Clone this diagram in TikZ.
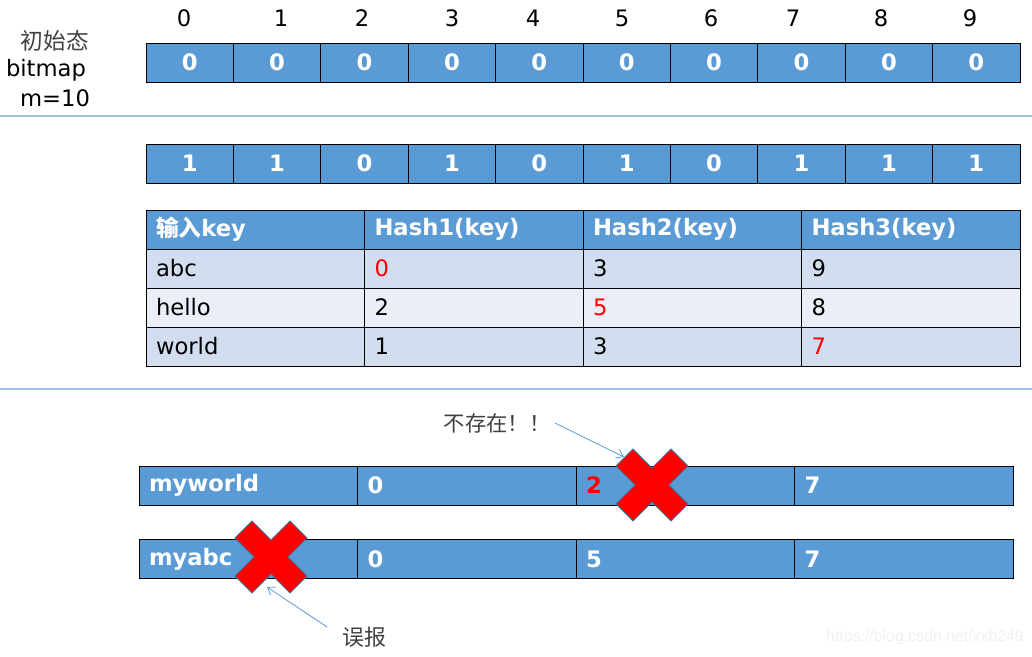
\documentclass[tikz,border=0pt]{standalone}
\usepackage{fontspec}
\setmainfont{DejaVu Sans}
\newfontfamily\cjk{Noto Sans CJK SC}
\newfontfamily\markfont{Liberation Sans}
\usetikzlibrary{arrows.meta}
\definecolor{cellblue}{HTML}{5B9BD5}
\definecolor{rowdark}{HTML}{D2DEEF}
\definecolor{rowlight}{HTML}{EAEFF7}
\definecolor{rulecol}{HTML}{9DC3E6}
\definecolor{labelgray}{HTML}{404040}
\definecolor{crossedge}{HTML}{41719C}
\newcommand\hitval[1]{\textcolor{red}{#1}}
\tikzset{every node/.style={font=\fontsize{17}{20}\selectfont},
    bitcell/.style={draw=black, line width=0.75pt, fill=cellblue, text=white,
        font=\fontsize{17}{20}\selectfont\bfseries, inner sep=0pt,
        minimum width=65.55pt, minimum height=29.25pt},
    tabcell/.style={draw=black, line width=0.75pt, inner xsep=7.5pt, inner ysep=0pt,
        text width=148.875pt, minimum height=29.25pt, align=left},
    headcell/.style={tabcell, fill=cellblue, text=white,
        font=\fontsize{17}{20}\selectfont\bfseries},
    seprule/.style={draw=rulecol, line width=1.1pt},
    pointer/.style={draw=cellblue, line width=0.6pt, -{Straight Barb[length=5pt,width=7pt]}},
    redx/.pic={\filldraw[fill=red, draw=crossedge, line width=0.6pt]
        (-19,-36) -- ++(19,19) -- ++(19,-19) -- ++(17,17) -- ++(-19,19) -- ++(19,19)
        -- ++(-17,17) -- ++(-19,-19) -- ++(-19,19) -- ++(-17,-17) -- ++(19,-19)
        -- ++(-19,-19) -- cycle;},
    }
\begin{document}
\begin{tikzpicture}[x=0.75pt, y=-0.75pt]
	\useasboundingbox (0,0) rectangle (1032,657);
	% initial bitmap
	\node[text=labelgray, font=\fontsize{17}{20}\selectfont\cjk] (initlbl) at (55,41) {初始态};
	\node (bmlbl) at (46,70) {bitmap};
	\node (mlbl) at (55,98) {m=10};
	\foreach \x [count=\i from 0] in {184,281,362,452,533,622,711,793,881,970}
		\node (pos\i) at (\x,18) {\i};
	\foreach \i in {0,...,9}
		\node[bitcell] (init\i) at ({189.7+87.4*\i},62.5) {0};
	\draw[seprule] (0,116) -- (1032,116);
	% bitmap after inserting keys
	\foreach \v [count=\i from 0] in {1,1,0,1,0,1,0,1,1,1}
		\node[bitcell] (bit\i) at ({189.7+87.4*\i},163.5) {\v};
	% hash table
	\foreach \t [count=\c from 0] in {{{\cjk 输入}key},Hash1(key),Hash2(key),Hash3(key)}
		\node[headcell] (head\c) at ({255.25+218.5*\c},229.5) {\t};
	\foreach \k/\ha/\hb/\hc/\bg [count=\r] in {abc/\hitval{0}/3/9/rowdark,
			hello/2/\hitval{5}/8/rowlight, world/1/3/\hitval{7}/rowdark}{
		\node[tabcell, fill=\bg] (key\r) at (255.25,{229.5+39*\r}) {\k};
		\node[tabcell, fill=\bg] (ha\r) at (473.75,{229.5+39*\r}) {\ha};
		\node[tabcell, fill=\bg] (hb\r) at (692.25,{229.5+39*\r}) {\hb};
		\node[tabcell, fill=\bg] (hc\r) at (910.75,{229.5+39*\r}) {\hc};
	}%rows
	\draw[seprule] (0,389) -- (1032,389);
	% lookups
	\foreach \t [count=\c from 0] in {myworld,0,\hitval{2},7}
		\node[headcell] (qa\c) at ({248.25+218.5*\c},485.5) {\t};
	\pic (crossA) at (652,485) {redx};
	\foreach \t [count=\c from 0] in {myabc,0,5,7}
		\node[headcell] (qb\c) at ({248.25+218.5*\c},559) {\t};
	\pic (crossB) at (271,557) {redx};
	\coordinate (hitA) at (624,457);
	\coordinate (hitB) at (267,587);
	\node[text=labelgray, font=\fontsize{16}{20}\selectfont\cjk] (nonexist) at (497,423) {不存在！！};
	\node[text=labelgray, font=\fontsize{16.5}{20}\selectfont\cjk] (misrep) at (364,637) {误报};
	\draw[pointer] (nonexist.east) -- (hitA);
	\draw[pointer] ([shift={(-10,5)}]misrep.north west) -- (hitB);
	\node[text=black!6, font=\fontsize{11.9}{14}\selectfont\markfont] (mark) at (925,637) {https://blog.csdn.net/xxb249};
\end{tikzpicture}
\end{document}
